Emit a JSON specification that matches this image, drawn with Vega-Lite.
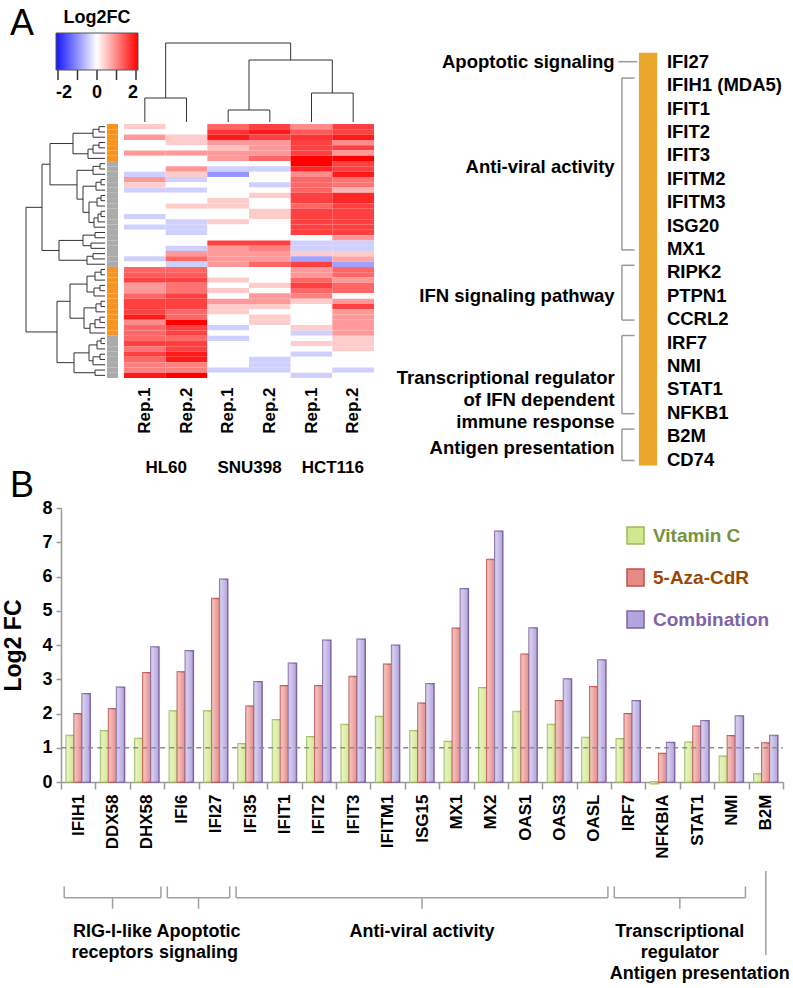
{
  "$schema": "https://vega.github.io/schema/vega-lite/v6.json",
  "autosize": {"type": "none"},
  "width": 793,
  "height": 988,
  "padding": 0,
  "background": "white",
  "config": {
    "font": "Liberation Sans",
    "view": {"stroke": null},
    "axis": {"labelColor": "#000", "titleColor": "#000", "grid": false},
    "legend": {"labelColor": "#000", "titleColor": "#000", "padding": 0}
  },
  "datasets": {
    "hm": [
      {"cl": "C1", "H1": 0.4, "H2": 0, "S1": 1.2, "S2": 1.5, "T1": 0.9, "T2": 1.5},
      {"cl": "C1", "H1": 0, "H2": 0, "S1": 1.6, "S2": 1.8, "T1": 1.3, "T2": 1.5},
      {"cl": "C1", "H1": 0.8, "H2": 0.4, "S1": 1.8, "S2": 1.5, "T1": 1.6, "T2": 1.8},
      {"cl": "C1", "H1": 0, "H2": 0.4, "S1": 0.8, "S2": 0.8, "T1": 1.5, "T2": 0.9},
      {"cl": "C1", "H1": 0, "H2": 0, "S1": 0.5, "S2": 0.8, "T1": 1.5, "T2": 1.5},
      {"cl": "C1", "H1": 0.8, "H2": 0.8, "S1": 0.8, "S2": 0.8, "T1": 1.5, "T2": 0.8},
      {"cl": "C1", "H1": 0, "H2": 0, "S1": 0.8, "S2": 1.2, "T1": 2.0, "T2": 2.0},
      {"cl": "C2", "H1": 0, "H2": 0, "S1": 0, "S2": 0, "T1": 2.0, "T2": 1.5},
      {"cl": "C2", "H1": 0, "H2": 0.8, "S1": -0.4, "S2": -0.4, "T1": 1.7, "T2": 1.5},
      {"cl": "C2", "H1": -0.4, "H2": 0.4, "S1": -0.9, "S2": 0, "T1": 0.9, "T2": 1.8},
      {"cl": "C2", "H1": 0.8, "H2": -0.4, "S1": 0, "S2": 0, "T1": 1.2, "T2": 1.1},
      {"cl": "C2", "H1": 0.4, "H2": 0, "S1": 0, "S2": -0.4, "T1": 1.2, "T2": 1.1},
      {"cl": "C2", "H1": -0.4, "H2": -0.4, "S1": 0, "S2": 0, "T1": 1.2, "T2": 0.6},
      {"cl": "C2", "H1": 0, "H2": 0, "S1": 0, "S2": 0.4, "T1": 1.5, "T2": 1.7},
      {"cl": "C2", "H1": 0, "H2": 0, "S1": 0.4, "S2": 0, "T1": 1.5, "T2": 1.7},
      {"cl": "C2", "H1": 0, "H2": 0.4, "S1": 0.4, "S2": 0, "T1": 1.2, "T2": 1.5},
      {"cl": "C2", "H1": 0, "H2": 0, "S1": 0, "S2": 0.4, "T1": 1.5, "T2": 1.5},
      {"cl": "C2", "H1": -0.4, "H2": 0, "S1": 0, "S2": 0.4, "T1": 1.5, "T2": 1.5},
      {"cl": "C2", "H1": 0, "H2": -0.4, "S1": 0.4, "S2": 0, "T1": 1.5, "T2": 1.5},
      {"cl": "C2", "H1": -0.4, "H2": -0.4, "S1": 0, "S2": 0, "T1": 1.5, "T2": 1.5},
      {"cl": "C2", "H1": 0, "H2": -0.4, "S1": 0, "S2": 0, "T1": 1.5, "T2": 1.5},
      {"cl": "C2", "H1": 0, "H2": 0, "S1": 0, "S2": 0, "T1": 0, "T2": 0.8},
      {"cl": "C2", "H1": 0, "H2": 0, "S1": 1.5, "S2": 1.5, "T1": -0.4, "T2": -0.4},
      {"cl": "C2", "H1": 0, "H2": -0.4, "S1": 0.8, "S2": 1.0, "T1": -0.4, "T2": -0.4},
      {"cl": "C2", "H1": 0, "H2": 0.8, "S1": 0.8, "S2": 0.8, "T1": 0.4, "T2": 0.4},
      {"cl": "C2", "H1": -0.4, "H2": 1.2, "S1": 0.8, "S2": 0.8, "T1": -0.8, "T2": 0.7},
      {"cl": "C2", "H1": 0, "H2": -0.4, "S1": 0.8, "S2": 1.2, "T1": 1.5, "T2": -0.8},
      {"cl": "C1", "H1": 1.2, "H2": 1.2, "S1": 0, "S2": 0, "T1": 0.8, "T2": 1.2},
      {"cl": "C1", "H1": 1.3, "H2": 1.3, "S1": 0, "S2": 0, "T1": 0.8, "T2": 1.2},
      {"cl": "C1", "H1": 1.5, "H2": 1.5, "S1": 0.4, "S2": 0, "T1": 1.2, "T2": 0.8},
      {"cl": "C1", "H1": 0.8, "H2": 1.1, "S1": 0, "S2": 0.4, "T1": 1.5, "T2": 1.2},
      {"cl": "C1", "H1": 0.8, "H2": 1.1, "S1": 0.4, "S2": 0, "T1": 1.2, "T2": 1.2},
      {"cl": "C1", "H1": 1.2, "H2": 1.5, "S1": 0, "S2": 0.8, "T1": 1.0, "T2": 0},
      {"cl": "C1", "H1": 1.5, "H2": 1.5, "S1": 0.8, "S2": 0.8, "T1": 0.4, "T2": 0.8},
      {"cl": "C1", "H1": 1.5, "H2": 1.5, "S1": 0.4, "S2": 0.4, "T1": 0, "T2": 1.5},
      {"cl": "C1", "H1": 1.5, "H2": 1.2, "S1": 0.4, "S2": 0, "T1": 0, "T2": 0.8},
      {"cl": "C1", "H1": 1.8, "H2": 1.2, "S1": 0, "S2": 0.4, "T1": 0, "T2": 0.8},
      {"cl": "C1", "H1": 0.9, "H2": 2.0, "S1": 0, "S2": 0.4, "T1": 0, "T2": 0.8},
      {"cl": "C1", "H1": 1.2, "H2": 1.5, "S1": -0.4, "S2": 0, "T1": 0.4, "T2": 0.8},
      {"cl": "C1", "H1": 1.2, "H2": 1.5, "S1": 0, "S2": 0, "T1": -0.4, "T2": 0.8},
      {"cl": "C2", "H1": 1.2, "H2": 1.2, "S1": -0.4, "S2": 0, "T1": 0, "T2": 0.4},
      {"cl": "C2", "H1": 1.5, "H2": 1.5, "S1": 0, "S2": 0, "T1": 0.4, "T2": 0.4},
      {"cl": "C2", "H1": 1.1, "H2": 1.5, "S1": 0, "S2": 0, "T1": 0, "T2": 0.4},
      {"cl": "C2", "H1": 1.5, "H2": 1.8, "S1": 0, "S2": 0, "T1": -0.4, "T2": 0},
      {"cl": "C2", "H1": 1.2, "H2": 1.8, "S1": 0, "S2": -0.4, "T1": 0, "T2": 0},
      {"cl": "C2", "H1": 1.0, "H2": 1.0, "S1": 0, "S2": -0.4, "T1": 0, "T2": 0},
      {"cl": "C2", "H1": 1.0, "H2": 1.0, "S1": -0.4, "S2": -0.4, "T1": 0, "T2": -0.4},
      {"cl": "C2", "H1": 1.8, "H2": 2.0, "S1": 0, "S2": 0, "T1": -0.4, "T2": 0}
    ],
    "rowtree": [
      {"h": 6, "a": 0.5, "b": 1.5, "ha": 0, "hb": 0},
      {"h": 12, "a": 1.0, "b": 2.5, "ha": 6, "hb": 0},
      {"h": 6, "a": 3.5, "b": 4.5, "ha": 0, "hb": 0},
      {"h": 12, "a": 4.0, "b": 5.5, "ha": 6, "hb": 0},
      {"h": 17, "a": 4.75, "b": 6.5, "ha": 12, "hb": 0},
      {"h": 32, "a": 1.75, "b": 5.625, "ha": 12, "hb": 17},
      {"h": 5, "a": 7.5, "b": 8.5, "ha": 0, "hb": 0},
      {"h": 12, "a": 8.0, "b": 9.5, "ha": 5, "hb": 0},
      {"h": 4, "a": 10.5, "b": 11.5, "ha": 0, "hb": 0},
      {"h": 9, "a": 11.0, "b": 12.5, "ha": 4, "hb": 0},
      {"h": 4, "a": 13.5, "b": 14.5, "ha": 0, "hb": 0},
      {"h": 8, "a": 14.0, "b": 15.5, "ha": 4, "hb": 0},
      {"h": 4, "a": 16.5, "b": 17.5, "ha": 0, "hb": 0},
      {"h": 7, "a": 17.0, "b": 18.5, "ha": 4, "hb": 0},
      {"h": 11, "a": 17.75, "b": 19.5, "ha": 7, "hb": 0},
      {"h": 16, "a": 14.75, "b": 18.6, "ha": 8, "hb": 11},
      {"h": 22, "a": 11.75, "b": 16.7, "ha": 9, "hb": 16},
      {"h": 28, "a": 8.75, "b": 14.2, "ha": 12, "hb": 22},
      {"h": 55, "a": 3.69, "b": 11.5, "ha": 32, "hb": 28},
      {"h": 10, "a": 20.5, "b": 21.5, "ha": 0, "hb": 0},
      {"h": 14, "a": 22.5, "b": 23.5, "ha": 0, "hb": 0},
      {"h": 22, "a": 21.0, "b": 23.0, "ha": 10, "hb": 14},
      {"h": 12, "a": 24.5, "b": 25.5, "ha": 0, "hb": 0},
      {"h": 18, "a": 25.0, "b": 26.5, "ha": 12, "hb": 0},
      {"h": 46, "a": 22.0, "b": 25.75, "ha": 22, "hb": 18},
      {"h": 63, "a": 7.6, "b": 23.9, "ha": 55, "hb": 46},
      {"h": 4, "a": 27.5, "b": 28.5, "ha": 0, "hb": 0},
      {"h": 10, "a": 28.0, "b": 29.5, "ha": 4, "hb": 0},
      {"h": 5, "a": 30.5, "b": 31.5, "ha": 0, "hb": 0},
      {"h": 11, "a": 31.0, "b": 32.5, "ha": 5, "hb": 0},
      {"h": 18, "a": 28.75, "b": 31.75, "ha": 10, "hb": 11},
      {"h": 4, "a": 33.5, "b": 34.5, "ha": 0, "hb": 0},
      {"h": 9, "a": 34.0, "b": 35.5, "ha": 4, "hb": 0},
      {"h": 5, "a": 36.5, "b": 37.5, "ha": 0, "hb": 0},
      {"h": 10, "a": 37.0, "b": 38.5, "ha": 5, "hb": 0},
      {"h": 15, "a": 37.75, "b": 39.5, "ha": 10, "hb": 0},
      {"h": 21, "a": 34.75, "b": 38.6, "ha": 9, "hb": 15},
      {"h": 35, "a": 30.25, "b": 36.7, "ha": 18, "hb": 21},
      {"h": 4, "a": 40.5, "b": 41.5, "ha": 0, "hb": 0},
      {"h": 8, "a": 41.0, "b": 42.5, "ha": 4, "hb": 0},
      {"h": 5, "a": 43.5, "b": 44.5, "ha": 0, "hb": 0},
      {"h": 12, "a": 44.0, "b": 45.5, "ha": 5, "hb": 0},
      {"h": 16, "a": 41.75, "b": 44.75, "ha": 8, "hb": 12},
      {"h": 10, "a": 46.5, "b": 47.5, "ha": 0, "hb": 0},
      {"h": 31, "a": 43.25, "b": 47.0, "ha": 16, "hb": 10},
      {"h": 48, "a": 33.5, "b": 45.1, "ha": 35, "hb": 31},
      {"h": 79, "a": 15.75, "b": 39.3, "ha": 63, "hb": 48}
    ],
    "coltree": [
      {"h": 24, "a": 0.5, "b": 1.5, "ha": 0, "hb": 0},
      {"h": 12, "a": 2.5, "b": 3.5, "ha": 0, "hb": 0},
      {"h": 29, "a": 4.5, "b": 5.5, "ha": 0, "hb": 0},
      {"h": 62, "a": 3.0, "b": 5.0, "ha": 12, "hb": 29},
      {"h": 79, "a": 1.0, "b": 4.0, "ha": 24, "hb": 62}
    ],
    "lines": [{"line": "HL60"}, {"line": "SNU398"}, {"line": "HCT116"}],
    "legendticks": [{"t": -2}, {"t": -1}, {"t": 0}, {"t": 1}, {"t": 2}],
    "genelist": [
      {"gene": "IFI27", "cat": "Apoptotic signaling"},
      {"gene": "IFIH1 (MDA5)", "cat": "Anti-viral activity"},
      {"gene": "IFIT1", "cat": "Anti-viral activity"},
      {"gene": "IFIT2", "cat": "Anti-viral activity"},
      {"gene": "IFIT3", "cat": "Anti-viral activity"},
      {"gene": "IFITM2", "cat": "Anti-viral activity"},
      {"gene": "IFITM3", "cat": "Anti-viral activity"},
      {"gene": "ISG20", "cat": "Anti-viral activity"},
      {"gene": "MX1", "cat": "Anti-viral activity"},
      {"gene": "RIPK2", "cat": "IFN signaling pathway"},
      {"gene": "PTPN1", "cat": "IFN signaling pathway"},
      {"gene": "CCRL2", "cat": "IFN signaling pathway"},
      {"gene": "IRF7", "cat": "Transcriptional regulator\nof IFN dependent\nimmune response"},
      {"gene": "NMI", "cat": "Transcriptional regulator\nof IFN dependent\nimmune response"},
      {"gene": "STAT1", "cat": "Transcriptional regulator\nof IFN dependent\nimmune response"},
      {"gene": "NFKB1", "cat": "Transcriptional regulator\nof IFN dependent\nimmune response"},
      {"gene": "B2M", "cat": "Antigen presentation"},
      {"gene": "CD74", "cat": "Antigen presentation"}
    ],
    "genes": [
      {"gene": "IFIH1", "group": "RIG-I-like\nreceptors", "Vitamin C": 1.36, "5-Aza-CdR": 1.99, "Combination": 2.58},
      {"gene": "DDX58", "group": "RIG-I-like\nreceptors", "Vitamin C": 1.5, "5-Aza-CdR": 2.14, "Combination": 2.77},
      {"gene": "DHX58", "group": "RIG-I-like\nreceptors", "Vitamin C": 1.27, "5-Aza-CdR": 3.19, "Combination": 3.94},
      {"gene": "IFI6", "group": "Apoptotic\nsignaling", "Vitamin C": 2.07, "5-Aza-CdR": 3.21, "Combination": 3.83},
      {"gene": "IFI27", "group": "Apoptotic\nsignaling", "Vitamin C": 2.07, "5-Aza-CdR": 5.36, "Combination": 5.92},
      {"gene": "IFI35", "group": "Anti-viral activity", "Vitamin C": 1.12, "5-Aza-CdR": 2.21, "Combination": 2.93},
      {"gene": "IFIT1", "group": "Anti-viral activity", "Vitamin C": 1.82, "5-Aza-CdR": 2.81, "Combination": 3.47},
      {"gene": "IFIT2", "group": "Anti-viral activity", "Vitamin C": 1.32, "5-Aza-CdR": 2.81, "Combination": 4.14},
      {"gene": "IFIT3", "group": "Anti-viral activity", "Vitamin C": 1.68, "5-Aza-CdR": 3.08, "Combination": 4.17},
      {"gene": "IFITM1", "group": "Anti-viral activity", "Vitamin C": 1.91, "5-Aza-CdR": 3.44, "Combination": 3.99},
      {"gene": "ISG15", "group": "Anti-viral activity", "Vitamin C": 1.5, "5-Aza-CdR": 2.3, "Combination": 2.87},
      {"gene": "MX1", "group": "Anti-viral activity", "Vitamin C": 1.18, "5-Aza-CdR": 4.49, "Combination": 5.64},
      {"gene": "MX2", "group": "Anti-viral activity", "Vitamin C": 2.75, "5-Aza-CdR": 6.5, "Combination": 7.32},
      {"gene": "OAS1", "group": "Anti-viral activity", "Vitamin C": 2.06, "5-Aza-CdR": 3.73, "Combination": 4.5},
      {"gene": "OAS3", "group": "Anti-viral activity", "Vitamin C": 1.68, "5-Aza-CdR": 2.37, "Combination": 3.01},
      {"gene": "OASL", "group": "Anti-viral activity", "Vitamin C": 1.3, "5-Aza-CdR": 2.78, "Combination": 3.56},
      {"gene": "IRF7", "group": "Transcriptional\nregulator", "Vitamin C": 1.26, "5-Aza-CdR": 1.99, "Combination": 2.37},
      {"gene": "NFKBIA", "group": "Transcriptional\nregulator", "Vitamin C": -0.05, "5-Aza-CdR": 0.83, "Combination": 1.15},
      {"gene": "STAT1", "group": "Transcriptional\nregulator", "Vitamin C": 1.16, "5-Aza-CdR": 1.63, "Combination": 1.79},
      {"gene": "NMI", "group": "Transcriptional\nregulator", "Vitamin C": 0.75, "5-Aza-CdR": 1.35, "Combination": 1.93},
      {"gene": "B2M", "group": "Antigen presentation", "Vitamin C": 0.23, "5-Aza-CdR": 1.14, "Combination": 1.36}
    ]
  },
  "layer": [
    {
      "data": {"name": "hm"},
      "transform": [
        {"window": [{"op": "row_number", "as": "row"}]},
        {"fold": ["H1", "H2", "S1", "S2", "T1", "T2"], "as": ["col", "v"]}
      ],
      "mark": {"type": "rect"},
      "encoding": {
        "x": {
          "field": "col", "type": "nominal", "sort": ["H1", "H2", "S1", "S2", "T1", "T2"],
          "scale": {"range": [124, 374], "paddingInner": 0, "paddingOuter": 0},
          "axis": {"orient": "bottom", "offset": -610, "title": null, "labelExpr": "'Rep.' + substring(datum.label, 1)", "labelAngle": -90, "labelAlign": "right", "labelBaseline": "middle", "labelFontSize": 17, "labelFontWeight": "bold", "labelPadding": 9, "ticks": false, "domain": false}
        },
        "y": {"field": "row", "type": "ordinal", "scale": {"range": [124, 378], "paddingInner": 0, "paddingOuter": 0}, "axis": null},
        "fill": {
          "field": "v", "type": "quantitative",
          "scale": {"domain": [-2, 0, 2], "range": ["#1414ff", "#ffffff", "#ff0000"], "interpolate": "rgb"},
          "legend": {
            "orient": "none", "legendX": 56, "legendY": 9, "direction": "horizontal",
            "title": "Log2FC", "titleFontSize": 18, "titleFontWeight": "bold", "titleAnchor": "middle", "titleOrient": "top", "titlePadding": 6,
            "gradientLength": 82, "gradientThickness": 37, "gradientStrokeColor": "#555555", "gradientStrokeWidth": 1,
            "values": [-2, 0, 2], "labelExpr": "replace(datum.label, '\u2212', '-')", "labelAlign": "center", "labelFontSize": 18, "labelFontWeight": "bold", "labelOffset": 14, "labelOverlap": false
          }
        }
      }
    },
    {
      "data": {"name": "legendticks"},
      "mark": {"type": "rule", "color": "#333333", "strokeWidth": 1.5},
      "encoding": {
        "x": {"field": "t", "type": "quantitative", "scale": {"domain": [-2, 2], "range": [58, 136], "nice": false, "zero": false}, "axis": null},
        "y": {"datum": 0, "type": "quantitative", "scale": {"domain": [0, 1], "range": [69, 80], "nice": false, "zero": false}, "axis": null},
        "y2": {"datum": 1}
      }
    },
    {
      "data": {"name": "lines"},
      "mark": {"type": "text", "opacity": 0, "text": " "},
      "encoding": {
        "x": {
          "field": "line", "type": "nominal", "sort": null,
          "scale": {"range": [124, 374], "paddingInner": 0, "paddingOuter": 0},
          "axis": {"orient": "bottom", "offset": -610, "title": null, "labelAngle": 0, "labelFontSize": 17, "labelFontWeight": "bold", "labelPadding": 81, "ticks": false, "domain": false}
        }
      }
    },
    {
      "data": {"name": "hm"},
      "transform": [{"window": [{"op": "row_number", "as": "row"}]}],
      "mark": {"type": "rect"},
      "encoding": {
        "y": {"field": "row", "type": "ordinal", "scale": {"range": [124, 378], "paddingInner": 0, "paddingOuter": 0}, "axis": null},
        "x": {"datum": 0, "type": "quantitative", "scale": {"domain": [0, 1], "range": [107, 118], "nice": false, "zero": false}, "axis": null},
        "x2": {"datum": 1},
        "fill": {"field": "cl", "type": "nominal", "scale": {"domain": ["C1", "C2"], "range": ["#F7941D", "#ABABAB"]}, "legend": null}
      }
    },
    {
      "data": {"name": "rowtree"},
      "layer": [
        {
          "mark": {"type": "rule", "color": "#333333", "strokeWidth": 1},
          "encoding": {
            "x": {"field": "h", "type": "quantitative", "scale": {"domain": [0, 80], "range": [105, 25], "nice": false, "zero": false}, "axis": null},
            "y": {"field": "a", "type": "quantitative", "scale": {"domain": [0, 48], "range": [124, 378], "nice": false, "zero": false}, "axis": null},
            "y2": {"field": "b"}
          }
        },
        {
          "mark": {"type": "rule", "color": "#333333", "strokeWidth": 1},
          "encoding": {
            "x": {"field": "ha", "type": "quantitative", "scale": {"domain": [0, 80], "range": [105, 25], "nice": false, "zero": false}, "axis": null},
            "x2": {"field": "h"},
            "y": {"field": "a", "type": "quantitative", "scale": {"domain": [0, 48], "range": [124, 378], "nice": false, "zero": false}, "axis": null}
          }
        },
        {
          "mark": {"type": "rule", "color": "#333333", "strokeWidth": 1},
          "encoding": {
            "x": {"field": "hb", "type": "quantitative", "scale": {"domain": [0, 80], "range": [105, 25], "nice": false, "zero": false}, "axis": null},
            "x2": {"field": "h"},
            "y": {"field": "b", "type": "quantitative", "scale": {"domain": [0, 48], "range": [124, 378], "nice": false, "zero": false}, "axis": null}
          }
        }
      ]
    },
    {
      "data": {"name": "coltree"},
      "layer": [
        {
          "mark": {"type": "rule", "color": "#333333", "strokeWidth": 1},
          "encoding": {
            "x": {"field": "a", "type": "quantitative", "scale": {"domain": [0, 6], "range": [124, 374], "nice": false, "zero": false}, "axis": null},
            "y": {"field": "ha", "type": "quantitative", "scale": {"domain": [0, 79], "range": [122, 43], "nice": false, "zero": false}, "axis": null},
            "y2": {"field": "h"}
          }
        },
        {
          "mark": {"type": "rule", "color": "#333333", "strokeWidth": 1},
          "encoding": {
            "x": {"field": "b", "type": "quantitative", "scale": {"domain": [0, 6], "range": [124, 374], "nice": false, "zero": false}, "axis": null},
            "y": {"field": "hb", "type": "quantitative", "scale": {"domain": [0, 79], "range": [122, 43], "nice": false, "zero": false}, "axis": null},
            "y2": {"field": "h"}
          }
        },
        {
          "mark": {"type": "rule", "color": "#333333", "strokeWidth": 1},
          "encoding": {
            "x": {"field": "a", "type": "quantitative", "scale": {"domain": [0, 6], "range": [124, 374], "nice": false, "zero": false}, "axis": null},
            "x2": {"field": "b"},
            "y": {"field": "h", "type": "quantitative", "scale": {"domain": [0, 79], "range": [122, 43], "nice": false, "zero": false}, "axis": null}
          }
        },
        {
          "data": {"values": [{"panel": "A"}]},
          "mark": {"type": "text", "align": "left", "baseline": "alphabetic", "fontSize": 36, "color": "#000"},
          "encoding": {
            "x": {"datum": -2.736, "type": "quantitative", "scale": {"domain": [0, 6], "range": [124, 374], "nice": false, "zero": false}, "axis": null},
            "y": {"datum": 87, "type": "quantitative", "scale": {"domain": [0, 79], "range": [122, 43], "nice": false, "zero": false}, "axis": null},
            "text": {"field": "panel"}
          }
        }
      ]
    },
    {
      "data": {"name": "genelist"},
      "transform": [{"window": [{"op": "row_number", "as": "i"}]}],
      "layer": [
        {
          "mark": {"type": "rect", "fill": "#E9A82B", "yOffset": -9, "y2Offset": 6},
          "encoding": {
            "y": {"aggregate": "min", "field": "i", "type": "quantitative", "scale": {"domain": [1, 18], "range": [61.7, 459.5], "nice": false, "zero": false}, "axis": null},
            "y2": {"aggregate": "max", "field": "i"},
            "x": {"datum": 62.7, "type": "quantitative", "scale": {"domain": [0, 100], "range": [385, 790], "nice": false, "zero": false}, "axis": null},
            "x2": {"datum": 67.2}
          }
        },
        {
          "mark": {"type": "text", "align": "left", "baseline": "middle", "fontSize": 18.5, "fontWeight": "bold", "color": "#000"},
          "encoding": {
            "y": {"field": "i", "type": "quantitative", "scale": {"domain": [1, 18], "range": [61.7, 459.5], "nice": false, "zero": false}, "axis": null},
            "x": {"datum": 69.6, "type": "quantitative", "scale": {"domain": [0, 100], "range": [385, 790], "nice": false, "zero": false}, "axis": null},
            "text": {"field": "gene"}
          }
        },
        {
          "transform": [
            {"aggregate": [{"op": "min", "field": "i", "as": "lo"}, {"op": "max", "field": "i", "as": "hi"}, {"op": "mean", "field": "i", "as": "mid"}, {"op": "count", "as": "n"}], "groupby": ["cat"]}
          ],
          "layer": [
            {
              "transform": [{"filter": "datum.n > 1"}],
              "mark": {"type": "rule", "color": "#9a9a9a", "strokeWidth": 1.5, "yOffset": -7, "y2Offset": 1},
              "encoding": {
                "x": {"datum": 58.5, "type": "quantitative", "scale": {"domain": [0, 100], "range": [385, 790], "nice": false, "zero": false}, "axis": null},
                "y": {"field": "lo", "type": "quantitative", "scale": {"domain": [1, 18], "range": [61.7, 459.5], "nice": false, "zero": false}, "axis": null},
                "y2": {"field": "hi"}
              }
            },
            {
              "transform": [{"filter": "datum.n > 1"}],
              "mark": {"type": "rule", "color": "#9a9a9a", "strokeWidth": 1.5, "yOffset": -7},
              "encoding": {
                "x": {"datum": 58.5, "type": "quantitative", "scale": {"domain": [0, 100], "range": [385, 790], "nice": false, "zero": false}, "axis": null},
                "x2": {"datum": 61.6},
                "y": {"field": "lo", "type": "quantitative", "scale": {"domain": [1, 18], "range": [61.7, 459.5], "nice": false, "zero": false}, "axis": null}
              }
            },
            {
              "transform": [{"filter": "datum.n > 1"}],
              "mark": {"type": "rule", "color": "#9a9a9a", "strokeWidth": 1.5, "yOffset": 1},
              "encoding": {
                "x": {"datum": 58.5, "type": "quantitative", "scale": {"domain": [0, 100], "range": [385, 790], "nice": false, "zero": false}, "axis": null},
                "x2": {"datum": 61.6},
                "y": {"field": "hi", "type": "quantitative", "scale": {"domain": [1, 18], "range": [61.7, 459.5], "nice": false, "zero": false}, "axis": null}
              }
            },
            {
              "transform": [{"filter": "datum.n == 1"}],
              "mark": {"type": "rule", "color": "#9a9a9a", "strokeWidth": 1.5},
              "encoding": {
                "x": {"datum": 57.6, "type": "quantitative", "scale": {"domain": [0, 100], "range": [385, 790], "nice": false, "zero": false}, "axis": null},
                "x2": {"datum": 62.3},
                "y": {"field": "lo", "type": "quantitative", "scale": {"domain": [1, 18], "range": [61.7, 459.5], "nice": false, "zero": false}, "axis": null}
              }
            },
            {
              "mark": {"type": "text", "align": "right", "baseline": "middle", "fontSize": 18.5, "fontWeight": "bold", "lineBreak": "\n", "lineHeight": 22, "color": "#000"},
              "encoding": {
                "x": {"datum": 56.7, "type": "quantitative", "scale": {"domain": [0, 100], "range": [385, 790], "nice": false, "zero": false}, "axis": null},
                "y": {"field": "mid", "type": "quantitative", "scale": {"domain": [1, 18], "range": [61.7, 459.5], "nice": false, "zero": false}, "axis": null},
                "text": {"field": "cat"}
              }
            }
          ]
        }
      ]
    },
    {
      "data": {"name": "genes"},
      "transform": [{"fold": ["Vitamin C", "5-Aza-CdR", "Combination"], "as": ["treatment", "value"]}],
      "mark": {"type": "bar", "strokeWidth": 1.5},
      "encoding": {
        "x": {
          "field": "gene", "type": "nominal", "sort": null,
          "scale": {"range": [61, 783], "paddingInner": 0, "paddingOuter": 0},
          "axis": {"orient": "bottom", "offset": -206, "title": null, "labelAngle": -90, "labelAlign": "right", "labelBaseline": "middle", "labelFontSize": 17, "labelFontWeight": "bold", "labelPadding": 5, "tickBand": "extent", "tickSize": 7, "tickColor": "#999999", "tickWidth": 1.5, "domainColor": "#999999", "domainWidth": 1.5}
        },
        "xOffset": {"field": "treatment", "type": "nominal", "sort": ["Vitamin C", "5-Aza-CdR", "Combination"], "scale": {"paddingInner": 0, "paddingOuter": 0.65}},
        "y": {
          "field": "value", "type": "quantitative",
          "scale": {"domain": [0, 8], "range": [782, 508], "nice": false, "zero": false},
          "axis": {"orient": "left", "offset": -61, "values": [0, 1, 2, 3, 4, 5, 6, 7, 8], "title": "Log2 FC", "titleFontSize": 23, "titleFontWeight": "bold", "titlePadding": 16, "labelFontSize": 18, "labelFontWeight": "bold", "labelPadding": 4, "tickSize": 5, "tickColor": "#999999", "tickWidth": 1.5, "domainColor": "#999999", "domainWidth": 1.5, "grid": false}
        },
        "fill": {
          "field": "treatment", "type": "nominal",
          "scale": {"domain": ["Vitamin C", "5-Aza-CdR", "Combination"], "range": ["#D2E88E", "#E68A85", "#B3A4DE"]},
          "legend": {"orient": "none", "legendX": 626, "legendY": 526, "title": null, "symbolType": "square", "symbolSize": 290, "symbolStrokeWidth": 1.5, "labelFontSize": 19, "labelFontWeight": "bold", "labelOffset": 8, "rowPadding": 17,
            "labelColor": {"expr": "datum.value == 'Vitamin C' ? '#77933C' : (datum.value == '5-Aza-CdR' ? '#984807' : '#7F62A8')"}}
        },
        "stroke": {
          "field": "treatment", "type": "nominal",
          "scale": {"domain": ["Vitamin C", "5-Aza-CdR", "Combination"], "range": ["#9BBB59", "#C0504D", "#8064A2"]},
          "legend": {"orient": "none", "legendX": 626, "legendY": 526, "title": null, "symbolType": "square", "symbolSize": 290, "symbolStrokeWidth": 1.5, "labelFontSize": 19, "labelFontWeight": "bold", "labelOffset": 8, "rowPadding": 17,
            "labelColor": {"expr": "datum.value == 'Vitamin C' ? '#77933C' : (datum.value == '5-Aza-CdR' ? '#984807' : '#7F62A8')"}}
        }
      }
    },
    {
      "data": {"name": "genes"},
      "transform": [{"fold": ["Vitamin C", "5-Aza-CdR", "Combination"], "as": ["treatment", "value"]}],
      "mark": {
        "type": "bar", "strokeWidth": 0,
        "fill": {"gradient": "linear", "x1": 0, "y1": 0, "x2": 1, "y2": 0, "stops": [{"offset": 0, "color": "rgba(255,255,255,0.55)"}, {"offset": 1, "color": "rgba(255,255,255,0)"}]}
      },
      "encoding": {
        "x": {"field": "gene", "type": "nominal", "sort": null, "scale": {"range": [61, 783], "paddingInner": 0, "paddingOuter": 0}, "axis": null},
        "xOffset": {"field": "treatment", "type": "nominal", "sort": ["Vitamin C", "5-Aza-CdR", "Combination"], "scale": {"paddingInner": 0, "paddingOuter": 0.65}},
        "y": {"field": "value", "type": "quantitative", "scale": {"domain": [0, 8], "range": [782, 508], "nice": false, "zero": false}, "axis": null}
      }
    },
    {
      "data": {"values": [{"panel": "B"}]},
      "mark": {"type": "text", "align": "left", "baseline": "alphabetic", "fontSize": 36, "color": "#000"},
      "encoding": {
        "x": {"datum": -0.983, "type": "quantitative", "scale": {"domain": [0.5, 21.5], "range": [61, 783], "nice": false, "zero": false}, "axis": null},
        "y": {"datum": 8.32, "type": "quantitative", "scale": {"domain": [0, 8], "range": [782, 508], "nice": false, "zero": false}, "axis": null},
        "text": {"field": "panel"}
      }
    },
    {
      "data": {"name": "genes"},
      "transform": [
        {"window": [{"op": "row_number", "as": "k"}]},
        {"aggregate": [{"op": "min", "field": "k", "as": "lo"}, {"op": "max", "field": "k", "as": "hi"}, {"op": "mean", "field": "k", "as": "mid"}, {"op": "count", "as": "n"}], "groupby": ["group"]}
      ],
      "layer": [
        {
          "transform": [{"aggregate": [{"op": "min", "field": "lo", "as": "first"}, {"op": "max", "field": "hi", "as": "last"}]}],
          "mark": {"type": "rule", "strokeDash": [5, 4], "color": "#8c8c8c", "strokeWidth": 1.5, "xOffset": -17, "x2Offset": 17},
          "encoding": {
            "x": {"field": "first", "type": "quantitative", "scale": {"domain": [0.5, 21.5], "range": [61, 783], "nice": false, "zero": false}, "axis": null},
            "x2": {"field": "last"},
            "y": {"datum": 1, "type": "quantitative", "scale": {"domain": [0, 8], "range": [782, 508], "nice": false, "zero": false}, "axis": null}
          }
        },
        {
          "transform": [{"filter": "datum.n > 1"}],
          "mark": {"type": "rule", "color": "#a0a0a0", "strokeWidth": 1.5, "xOffset": -14, "x2Offset": 14},
          "encoding": {
            "x": {"field": "lo", "type": "quantitative", "scale": {"domain": [0.5, 21.5], "range": [61, 783], "nice": false, "zero": false}, "axis": null},
            "x2": {"field": "hi"},
            "y": {"datum": -3.38, "type": "quantitative", "scale": {"domain": [0, 8], "range": [782, 508], "nice": false, "zero": false}, "axis": null}
          }
        },
        {
          "transform": [{"filter": "datum.n > 1"}],
          "mark": {"type": "rule", "color": "#a0a0a0", "strokeWidth": 1.5, "xOffset": -14},
          "encoding": {
            "x": {"field": "lo", "type": "quantitative", "scale": {"domain": [0.5, 21.5], "range": [61, 783], "nice": false, "zero": false}, "axis": null},
            "y": {"datum": -3.05, "type": "quantitative", "scale": {"domain": [0, 8], "range": [782, 508], "nice": false, "zero": false}, "axis": null},
            "y2": {"datum": -3.38}
          }
        },
        {
          "transform": [{"filter": "datum.n > 1"}],
          "mark": {"type": "rule", "color": "#a0a0a0", "strokeWidth": 1.5, "xOffset": 14},
          "encoding": {
            "x": {"field": "hi", "type": "quantitative", "scale": {"domain": [0.5, 21.5], "range": [61, 783], "nice": false, "zero": false}, "axis": null},
            "y": {"datum": -3.05, "type": "quantitative", "scale": {"domain": [0, 8], "range": [782, 508], "nice": false, "zero": false}, "axis": null},
            "y2": {"datum": -3.38}
          }
        },
        {
          "transform": [{"filter": "datum.n > 1"}],
          "mark": {"type": "rule", "color": "#a0a0a0", "strokeWidth": 1.5},
          "encoding": {
            "x": {"field": "mid", "type": "quantitative", "scale": {"domain": [0.5, 21.5], "range": [61, 783], "nice": false, "zero": false}, "axis": null},
            "y": {"datum": -3.38, "type": "quantitative", "scale": {"domain": [0, 8], "range": [782, 508], "nice": false, "zero": false}, "axis": null},
            "y2": {"datum": -3.7}
          }
        },
        {
          "transform": [{"filter": "datum.n > 1"}],
          "mark": {"type": "text", "align": "center", "baseline": "middle", "fontSize": 18, "fontWeight": "bold", "lineBreak": "\n", "lineHeight": 21, "color": "#000"},
          "encoding": {
            "x": {"field": "mid", "type": "quantitative", "scale": {"domain": [0.5, 21.5], "range": [61, 783], "nice": false, "zero": false}, "axis": null},
            "y": {"datum": -4.38, "type": "quantitative", "scale": {"domain": [0, 8], "range": [782, 508], "nice": false, "zero": false}, "axis": null},
            "text": {"field": "group"}
          }
        },
        {
          "transform": [{"filter": "datum.n == 1"}],
          "mark": {"type": "rule", "color": "#a0a0a0", "strokeWidth": 1.5},
          "encoding": {
            "x": {"field": "mid", "type": "quantitative", "scale": {"domain": [0.5, 21.5], "range": [61, 783], "nice": false, "zero": false}, "axis": null},
            "y": {"datum": -2.6, "type": "quantitative", "scale": {"domain": [0, 8], "range": [782, 508], "nice": false, "zero": false}, "axis": null},
            "y2": {"datum": -5.05}
          }
        },
        {
          "transform": [{"filter": "datum.n == 1"}],
          "mark": {"type": "text", "align": "right", "baseline": "middle", "dx": 24, "fontSize": 18, "fontWeight": "bold", "color": "#000"},
          "encoding": {
            "x": {"field": "mid", "type": "quantitative", "scale": {"domain": [0.5, 21.5], "range": [61, 783], "nice": false, "zero": false}, "axis": null},
            "y": {"datum": -5.6, "type": "quantitative", "scale": {"domain": [0, 8], "range": [782, 508], "nice": false, "zero": false}, "axis": null},
            "text": {"field": "group"}
          }
        }
      ]
    }
  ],
  "resolve": {
    "scale": {"x": "independent", "y": "independent", "fill": "independent", "stroke": "independent"},
    "axis": {"x": "independent", "y": "independent"},
    "legend": {"fill": "independent", "stroke": "independent"}
  }
}
